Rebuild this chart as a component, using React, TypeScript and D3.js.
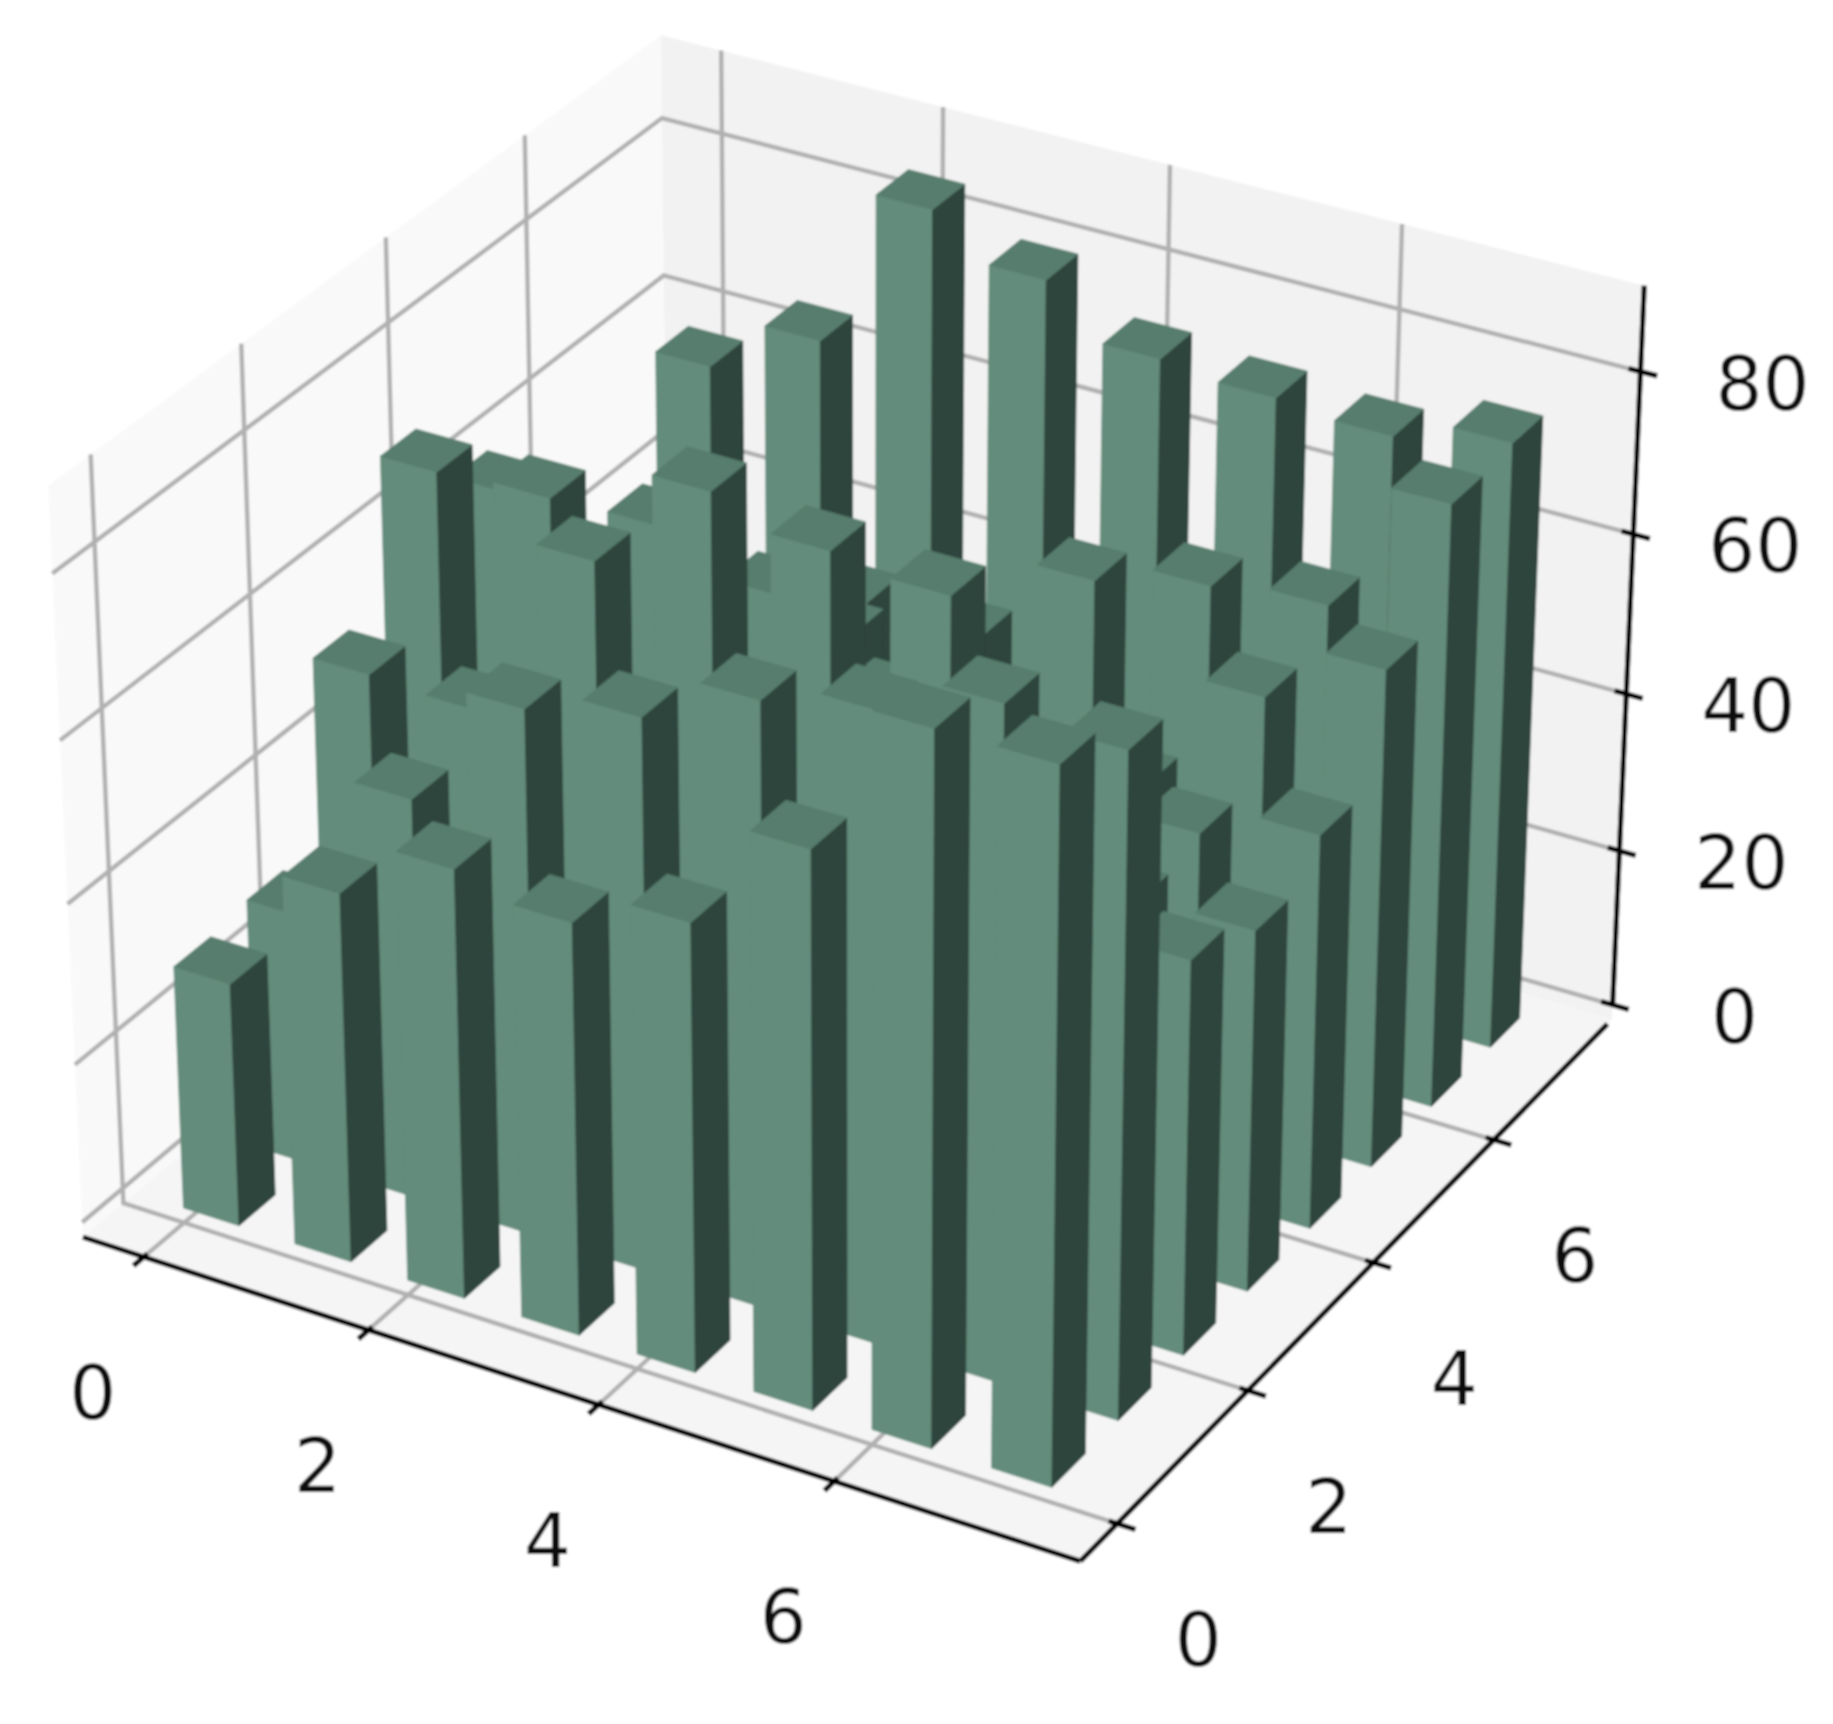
import React from 'react';
import * as d3 from 'd3';

const row0 = [30.5, 46, 53.2, 51, 55.3, 68.3, 86.5, 86.5];
const row1 = [31.4, 50.2, 65.3, 68.4, 74.5, 77.3, 82.3, 81];
const row2 = [54.3, 53.8, 76.1, 88.3, 85.2, 83.9, 60, 48.8];
const row3 = [72.3, 73, 73.3, 69, 60, 50, 43.8, 44.9];
const row4 = [63, 40, 45, 57, 45, 42, 45.2, 49.2];
const row5 = [40, 35, 35, 40, 38, 39.6, 54.8, 62.2];
const row6 = [40, 36, 43.5, 43, 54.2, 57.5, 59.1, 75.4];
const row7 = [59, 66, 86, 81, 75, 74, 73.1, 76.1];
const rows = [row0, row1, row2, row3, row4, row5, row6, row7];
const xTicks = [0, 2, 4, 6];
const yTicks = [0, 2, 4, 6];
const zTicks = [0, 20, 40, 60, 80];
const xLim: [number, number] = [-0.55, 8.04];
const yLim: [number, number] = [-0.55, 8.04];
const zLim: [number, number] = [-1.9, 90.4];
const barW = 0.5;

const LX = 1.143, LZ = 0.857;
const sX = d3.scaleLinear().domain(xLim).range([-LX / 2, LX / 2]);
const sY = d3.scaleLinear().domain(yLim).range([-LX / 2, LX / 2]);
const sZ = d3.scaleLinear().domain(zLim).range([-LZ / 2, LZ / 2]);
const el = (30 * Math.PI) / 180, az = (-60 * Math.PI) / 180;
const W = [Math.cos(el) * Math.cos(az), Math.cos(el) * Math.sin(az), Math.sin(el)];
const U = [-W[1], W[0], 0].map((d) => d / Math.hypot(W[0], W[1]));
const V = [-W[2] * U[1], W[2] * U[0], W[0] * U[1] - W[1] * U[0]];
const CX = 861, CY = 763, S = 10000;
type Pt = [number, number];
function P(x: number, y: number, z: number): Pt {
  const X = sX(x), Y = sY(y), Z = sZ(z);
  const d = 10 - (W[0] * X + W[1] * Y + W[2] * Z);
  return [CX + (S * (U[0] * X + U[1] * Y)) / d, CY - (S * (V[0] * X + V[1] * Y + V[2] * Z)) / d];
}
const line = d3.line<Pt>();
const poly = (pts: Pt[]) => line(pts) + 'Z';
const [x0, x1] = xLim, [y0, y1] = yLim, [z0, z1] = zLim;
const FRONT = '#638c7b', TOP = '#567d6d', SIDE = '#2f443d', GRID = '#b0b0b0';
const FONT = 'DejaVu Sans';
const TS = 74;

export default function App() {
  const bars: React.ReactNode[] = [];
  for (let j = 7; j >= 0; j--) {
    rows[j].forEach((h, i) => {
      const a = i, b = i + barW, c = j, d = j + barW;
      const faces: [Pt[], string][] = [
        [[P(a, c, 0), P(b, c, 0), P(b, c, h), P(a, c, h)], FRONT],
        [[P(b, c, 0), P(b, d, 0), P(b, d, h), P(b, c, h)], SIDE],
        [[P(a, c, h), P(b, c, h), P(b, d, h), P(a, d, h)], TOP],
      ];
      faces.forEach(([pts, col], k) =>
        bars.push(<path key={`${i}-${j}-${k}`} d={poly(pts)} fill={col} stroke={col} strokeWidth={0.8} />),
      );
    });
  }
  const gl = (pts: Pt[], k: string) => (
    <path key={k} d={line(pts)!} fill="none" stroke={GRID} strokeWidth={4.4} strokeLinejoin="miter" />
  );
  const ax = (a: Pt, b: Pt, k: string, w = 5.2) => (
    <path key={k} d={line([a, b])!} fill="none" stroke="#000" strokeWidth={w} />
  );
  const txt = (p: Pt, s: number, dx: number, dy: number, k: string) => (
    <text key={k} x={p[0] + dx} y={p[1] + dy} fontFamily={FONT} fontSize={TS} fill="#111" textAnchor="middle" dominantBaseline="central">
      {s}
    </text>
  );
  return (
    <svg width={1833} height={1724} style={{ position: 'absolute', left: 0, top: 0, background: '#fff' }}>
      <defs>
        <filter id="soft" x="0" y="0" width="100%" height="100%">
          <feGaussianBlur stdDeviation={1.1} />
        </filter>
      </defs>
      <g filter="url(#soft)">
        <rect width={1833} height={1724} fill="#fff" />
        <path d={poly([P(x0, y0, z0), P(x0, y1, z0), P(x0, y1, z1), P(x0, y0, z1)])} fill="#f9f9f9" />
        <path d={poly([P(x0, y1, z0), P(x1, y1, z0), P(x1, y1, z1), P(x0, y1, z1)])} fill="#f2f2f2" />
        <path d={poly([P(x0, y0, z0), P(x1, y0, z0), P(x1, y1, z0), P(x0, y1, z0)])} fill="#f5f5f5" />
        {xTicks.map((t) => gl([P(t, y0, z0), P(t, y1, z0), P(t, y1, z1)], `gx${t}`))}
        {yTicks.map((t) => gl([P(x1, t, z0), P(x0, t, z0), P(x0, t, z1)], `gy${t}`))}
        {zTicks.map((t) => gl([P(x0, y0, t), P(x0, y1, t), P(x1, y1, t)], `gz${t}`))}
        {ax(P(x0, y0, z0), P(x1, y0, z0), 'ax')}
        {ax(P(x1, y0, z0), P(x1, y1 - 0.08, z0), 'ay')}
        {ax(P(x1, y1, 0), P(x1, y1, z1), 'az')}
        {xTicks.map((t) => ax(P(t, y0 - 0.14, z0), P(t, y0 + 0.05, z0), `tx${t}`))}
        {yTicks.map((t) => ax(P(x1 - 0.07, t, z0), P(x1 + 0.15, t, z0), `ty${t}`))}
        {zTicks.map((t) => ax(P(x1 - 0.1, y1, t), P(x1 + 0.14, y1, t), `tz${t}`))}
        {bars}
        {xTicks.map((t) => txt(P(t, y0, z0), t, -51, 136, `lx${t}`))}
        {yTicks.map((t) => txt(P(x1, t, z0), t, 81, 116, `ly${t}`))}
        {zTicks.map((t) => txt(P(x1, y1, t), t, 122, 12, `lz${t}`))}
      </g>
    </svg>
  );
}
